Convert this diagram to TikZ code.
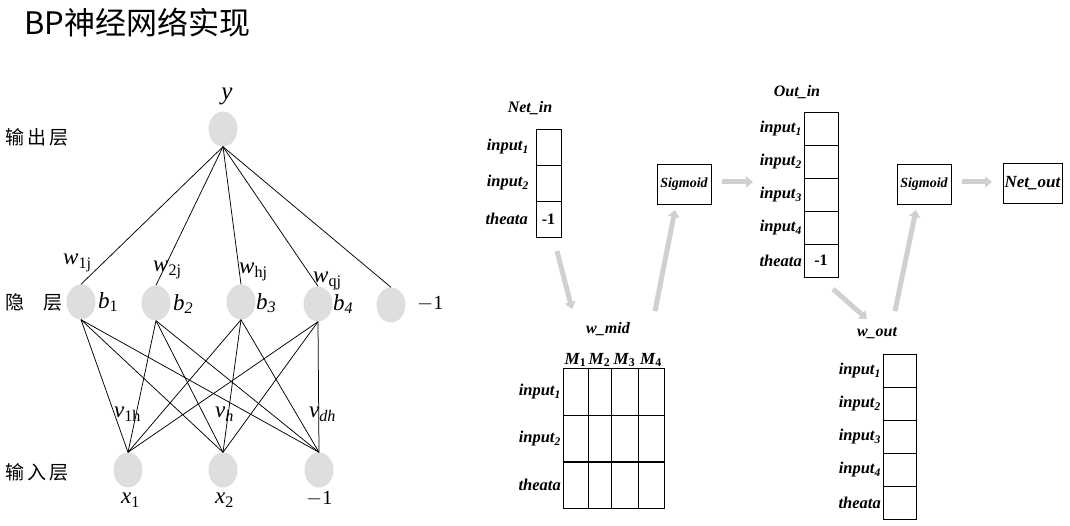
\documentclass[tikz,border=0pt]{standalone}
\usepackage{fontspec}
\setmainfont{Liberation Serif}
\newfontfamily\cjk{Noto Sans CJK SC}
\usetikzlibrary{shapes.geometric,arrows.meta}
\definecolor{neurongray}{RGB}{222,222,222}
\definecolor{flowgray}{RGB}{208,208,208}
\tikzset{
  neuron/.style={ellipse, fill=neurongray, minimum width=29pt, minimum height=35pt, inner sep=0pt},
  conn/.style={draw=black, line width=0.75pt},
  mlbl/.style={font=\fontsize{23}{23}\selectfont\itshape, inner sep=0pt, anchor=west},
  numlbl/.style={font=\fontsize{20}{20}\selectfont, inner sep=0pt, anchor=west},
  cjklbl/.style={font=\cjk\fontsize{19}{19}\selectfont, anchor=west, inner sep=0pt},
  cell/.style={draw, line width=0.7pt, inner sep=0pt, font=\bfseries\fontsize{16}{16}\selectfont},
  rowlbl/.style={anchor=east, font=\bfseries\itshape\fontsize{16.5}{16.5}\selectfont, inner sep=0pt},
  tbltitle/.style={font=\bfseries\itshape\fontsize{16}{16}\selectfont, inner sep=0pt},
  funcbox/.style={draw, line width=0.7pt, minimum width=54pt, minimum height=40pt, inner sep=0pt, font=\bfseries\itshape\fontsize{14}{14}\selectfont},
  flow/.style={draw=flowgray, line width=5pt, -{Triangle[length=7pt,width=11pt]}},
  sep/.style={line width=1.4pt}
}
\begin{document}
\begin{tikzpicture}[x=1pt,y=-1pt]
\useasboundingbox (0,0) rectangle (1070,526);
% title
\node[anchor=west, inner sep=0pt, font=\cjk\fontsize{31}{31}\selectfont] (title) at (24,23) {BP神经网络实现};

% ---------- left network ----------
\node[cjklbl] (lout) at (5,137) {输\hspace{3pt}出\hspace{3pt}层};
\node[cjklbl] (lhid) at (5,302) {隐\hspace{1em}层};
\node[cjklbl] (lin) at (5,472) {输\hspace{3pt}入\hspace{3pt}层};

\node[neuron] (y) at (223,129) {};
\node[font=\fontsize{25}{25}\selectfont\itshape, inner sep=0pt] (ylab) at (227,96) {y};

\node[neuron] (h1) at (81,302) {};
\node[neuron] (h2) at (156,303) {};
\node[neuron] (h3) at (241,302) {};
\node[neuron] (h4) at (318,304) {};
\node[neuron] (h5) at (391,305) {};

\node[mlbl] (b1) at (98,302) {b\textsubscript{\upshape 1}};
\node[mlbl] (b2) at (173,304) {b\textsubscript{2}};
\node[mlbl] (b3) at (256,303) {b\textsubscript{3}};
\node[mlbl] (b4) at (333,304) {b\textsubscript{4}};
\node[numlbl] (m1h) at (417,304) {$-$1};

\node[neuron] (x1) at (128,470) {};
\node[neuron] (x2) at (223,470) {};
\node[neuron] (x3) at (319,470) {};

\node[mlbl] (x1l) at (121,500) {x\textsubscript{\upshape 1}};
\node[mlbl] (x2l) at (215,500) {x\textsubscript{\upshape 2}};
\node[numlbl] (m1i) at (306,499) {$-$1};

% hidden -> output connections
\foreach \h in {h1,h2,h3,h4,h5}{
  \draw[conn] (y.south) -- (\h.north);
}
% input -> hidden connections
\foreach \i in {x1,x2,x3}{
  \foreach \h in {h1,h2,h3,h4}{
    \draw[conn] (\i.north) -- (\h.south);
  }
}

\node[mlbl] (w1) at (63,263) {w\textsubscript{\upshape 1j}};
\node[mlbl] (w2) at (153,270) {w\textsubscript{\upshape 2j}};
\node[mlbl] (w3) at (239,272) {w\textsubscript{\upshape hj}};
\node[mlbl] (w4) at (313,281) {w\textsubscript{\upshape qj}};

\node[mlbl] (v1) at (114,414) {v\textsubscript{\upshape 1h}};
\node[mlbl] (v2) at (215,414) {v\textsubscript{h}};
\node[mlbl] (v3) at (309,414) {v\textsubscript{dh}};

% ---------- right: Net_in ----------
\node[tbltitle] (netint) at (530,108) {Net\_in};
\node[cell, minimum width=25pt, minimum height=36pt] (ni1) at (548.5,147) {};
\node[cell, minimum width=25pt, minimum height=36pt] (ni2) at (548.5,183) {};
\node[cell, minimum width=25pt, minimum height=36pt] (ni3) at (548.5,219) {-1};
\node[rowlbl] at (529,147) {input\textsubscript{1}};
\node[rowlbl] at (529,183) {input\textsubscript{2}};
\node[rowlbl] at (528,219) {theata};

% Sigmoid 1
\node[funcbox] (sig1) at (684,184) {Sigmoid};

% Out_in
\node[tbltitle] (outint) at (797,92) {Out\_in};
\foreach \k/\yy in {1/128.5,2/161.5,3/194.5,4/227.5,5/260.5}{
  \node[cell, minimum width=34pt, minimum height=33pt] (oi\k) at (821,\yy) {};
}
\node[font=\bfseries\fontsize{16}{16}\selectfont, inner sep=0pt] at (oi5) {-1};
\draw[sep] (oi2.south west) -- (oi2.south east);
\draw[sep] (oi4.south west) -- (oi4.south east);
\node[rowlbl] at (802,128.5) {input\textsubscript{1}};
\node[rowlbl] at (802,161.5) {input\textsubscript{2}};
\node[rowlbl] at (802,194.5) {input\textsubscript{3}};
\node[rowlbl] at (802,227.5) {input\textsubscript{4}};
\node[rowlbl] at (802,260.5) {theata};

% Sigmoid 2 and Net_out
\node[funcbox] (sig2) at (924,184) {Sigmoid};
\node[funcbox, minimum width=59pt, font=\bfseries\itshape\fontsize{17}{17}\selectfont] (nout) at (1032.5,183) {Net\_out};
\draw[sep] (nout.south west) -- (nout.south east);

% w_mid
\node[tbltitle] (wmidt) at (608,329) {w\_mid};
\foreach \c/\xx in {1/575.5,2/599.5,3/624.5,4/651}{
  \node[font=\bfseries\itshape\fontsize{17}{17}\selectfont, inner sep=0pt] (mh\c) at (\xx,360) {M\textsubscript{\upshape\c}};
}
\foreach \r/\yy in {1/392,2/438.5,3/485}{
  \foreach \c/\xx/\ww in {1/575.5/25,2/599.5/23,3/624.5/27,4/651/26}{
    \node[cell, minimum width=\ww pt, minimum height=46.5pt] (wm\r\c) at (\xx,\yy) {};
  }
}
\draw[sep] (wm21.south west) -- (wm24.south east);
\node[rowlbl] at (561,392) {input\textsubscript{1}};
\node[rowlbl] at (561,438.5) {input\textsubscript{2}};
\node[rowlbl] at (561,485) {theata};

% w_out
\node[tbltitle] (woutt) at (877,333) {w\_out};
\foreach \k/\yy in {1/370.5,2/403.5,3/436.5,4/469.5,5/502.5}{
  \node[cell, minimum width=33pt, minimum height=33pt] (wo\k) at (899.5,\yy) {};
}
\draw[sep] (wo1.south west) -- (wo1.south east);
\draw[sep] (wo4.south west) -- (wo4.south east);
\node[rowlbl] at (881,370.5) {input\textsubscript{1}};
\node[rowlbl] at (881,403.5) {input\textsubscript{2}};
\node[rowlbl] at (881,436.5) {input\textsubscript{3}};
\node[rowlbl] at (881,469.5) {input\textsubscript{4}};
\node[rowlbl] at (881,502.5) {theata};

% flow arrows
\coordinate (f1s) at (557,251); \coordinate (f1e) at (572,309);
\coordinate (f2s) at (655,311); \coordinate (f2e) at (675,210);
\coordinate (f3s) at (722,182); \coordinate (f3e) at (753,182);
\coordinate (f4s) at (833,289); \coordinate (f4e) at (867,319);
\coordinate (f5s) at (895,311); \coordinate (f5e) at (916,210);
\coordinate (f6s) at (962,182); \coordinate (f6e) at (992,182);
\draw[flow] (f1s) -- (f1e);
\draw[flow] (f2s) -- (f2e);
\draw[flow] (f3s) -- (f3e);
\draw[flow] (f4s) -- (f4e);
\draw[flow] (f5s) -- (f5e);
\draw[flow] (f6s) -- (f6e);
\end{tikzpicture}
\end{document}
